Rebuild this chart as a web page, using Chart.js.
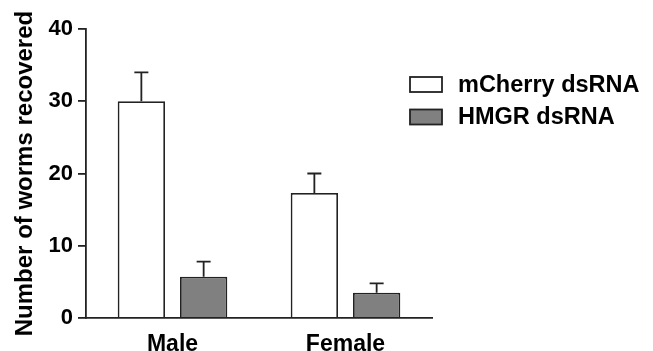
<!DOCTYPE html>
<html>
<head>
<meta charset="utf-8">
<script src="https://cdn.jsdelivr.net/npm/chart.js@4.4.1/dist/chart.umd.min.js"></script>
<style>
  html, body { margin: 0; padding: 0; background: #fff; }
  #wrap { width: 653px; height: 351px; }
</style>
</head>
<body>
<div id="wrap"><canvas id="barChart" width="653" height="351"></canvas></div>
<script>
const groups = ['Male', 'Female'];
const mcherry = [30, 17.3];
const mcherryErr = [4.0, 2.7];
const hmgr = [5.7, 3.5];
const hmgrErr = [2.1, 1.3];
const yTicks = [0, 10, 20, 30, 40];

const FONT = "'Liberation Sans', Arial, sans-serif";

// error bars (upper only) drawn on top of each bar
const errorBars = {
    id: 'errorBars',
    afterDatasetsDraw(chart) {
        const ctx = chart.ctx;
        const y = chart.scales.y;
        ctx.save();
        ctx.strokeStyle = '#222';
        ctx.lineWidth = 1.8;
        chart.data.datasets.forEach((ds, i) => {
            chart.getDatasetMeta(i).data.forEach((bar, j) => {
                const top = y.getPixelForValue(ds.data[j] + ds.err[j]);
                ctx.beginPath();
                ctx.moveTo(bar.x, bar.y);
                ctx.lineTo(bar.x, top);
                ctx.moveTo(bar.x - 7, top);
                ctx.lineTo(bar.x + 7, top);
                ctx.stroke();
            });
        });
        ctx.restore();
    }
};

// legend on the right
const sideLegend = {
    id: 'sideLegend',
    afterDraw(chart) {
        const ctx = chart.ctx;
        ctx.save();
        ctx.font = 'bold 23.5px ' + FONT;
        ctx.textBaseline = 'middle';
        chart.data.datasets.forEach((ds, i) => {
            const top = 77 + i * 32.5;
            ctx.fillStyle = ds.backgroundColor;
            ctx.fillRect(410, top, 32, 15);
            ctx.strokeStyle = '#222';
            ctx.lineWidth = 1.8;
            ctx.strokeRect(410, top, 32, 15);
            ctx.fillStyle = '#000';
            ctx.fillText(ds.label, 458, top + 8.5);
        });
        ctx.restore();
    }
};

var ctx = document.getElementById('barChart').getContext('2d');
var myChart = new Chart(ctx, {
    type: 'bar',
    data: {
        labels: groups,
        datasets: [{
            label: 'mCherry dsRNA',
            data: mcherry,
            err: mcherryErr,
            backgroundColor: '#ffffff',
            borderColor: '#222',
            borderWidth: 1.8
        }, {
            label: 'HMGR dsRNA',
            data: hmgr,
            err: hmgrErr,
            backgroundColor: '#808080',
            borderColor: '#222',
            borderWidth: 1.8
        }]
    },
    options: {
        responsive: false,
        animation: false,
        devicePixelRatio: 1,
        categoryPercentage: 0.72,
        barPercentage: 0.76,
        layout: { padding: { left: 11, right: 221, top: 29, bottom: 0 } },
        plugins: {
            legend: { display: false },
            tooltip: { enabled: false }
        },
        scales: {
            x: {
                grid: { display: false },
                border: { display: true, color: '#222', width: 1.8 },
                ticks: {
                    color: '#000',
                    font: { family: FONT, size: 23, weight: 'bold' },
                    padding: 5
                },
                afterFit(scale) { scale.height = 351 - 318; }
            },
            y: {
                min: 0,
                max: 40,
                afterBuildTicks(scale) { scale.ticks = yTicks.map(v => ({ value: v })); },
                grid: { drawOnChartArea: false, drawTicks: true, tickLength: 8, color: '#222', lineWidth: 1.8 },
                border: { display: true, color: '#222', width: 1.8 },
                ticks: {
                    color: '#000',
                    font: { family: FONT, size: 22, weight: 'bold' },
                    padding: 5
                },
                title: {
                    display: true,
                    text: 'Number of worms recovered',
                    color: '#000',
                    font: { family: FONT, size: 24, weight: 'bold' },
                    padding: { top: 0, bottom: 0 }
                },
                afterFit(scale) { scale.width = 75; }
            }
        }
    },
    plugins: [errorBars, sideLegend]
});
</script>
</body>
</html>
